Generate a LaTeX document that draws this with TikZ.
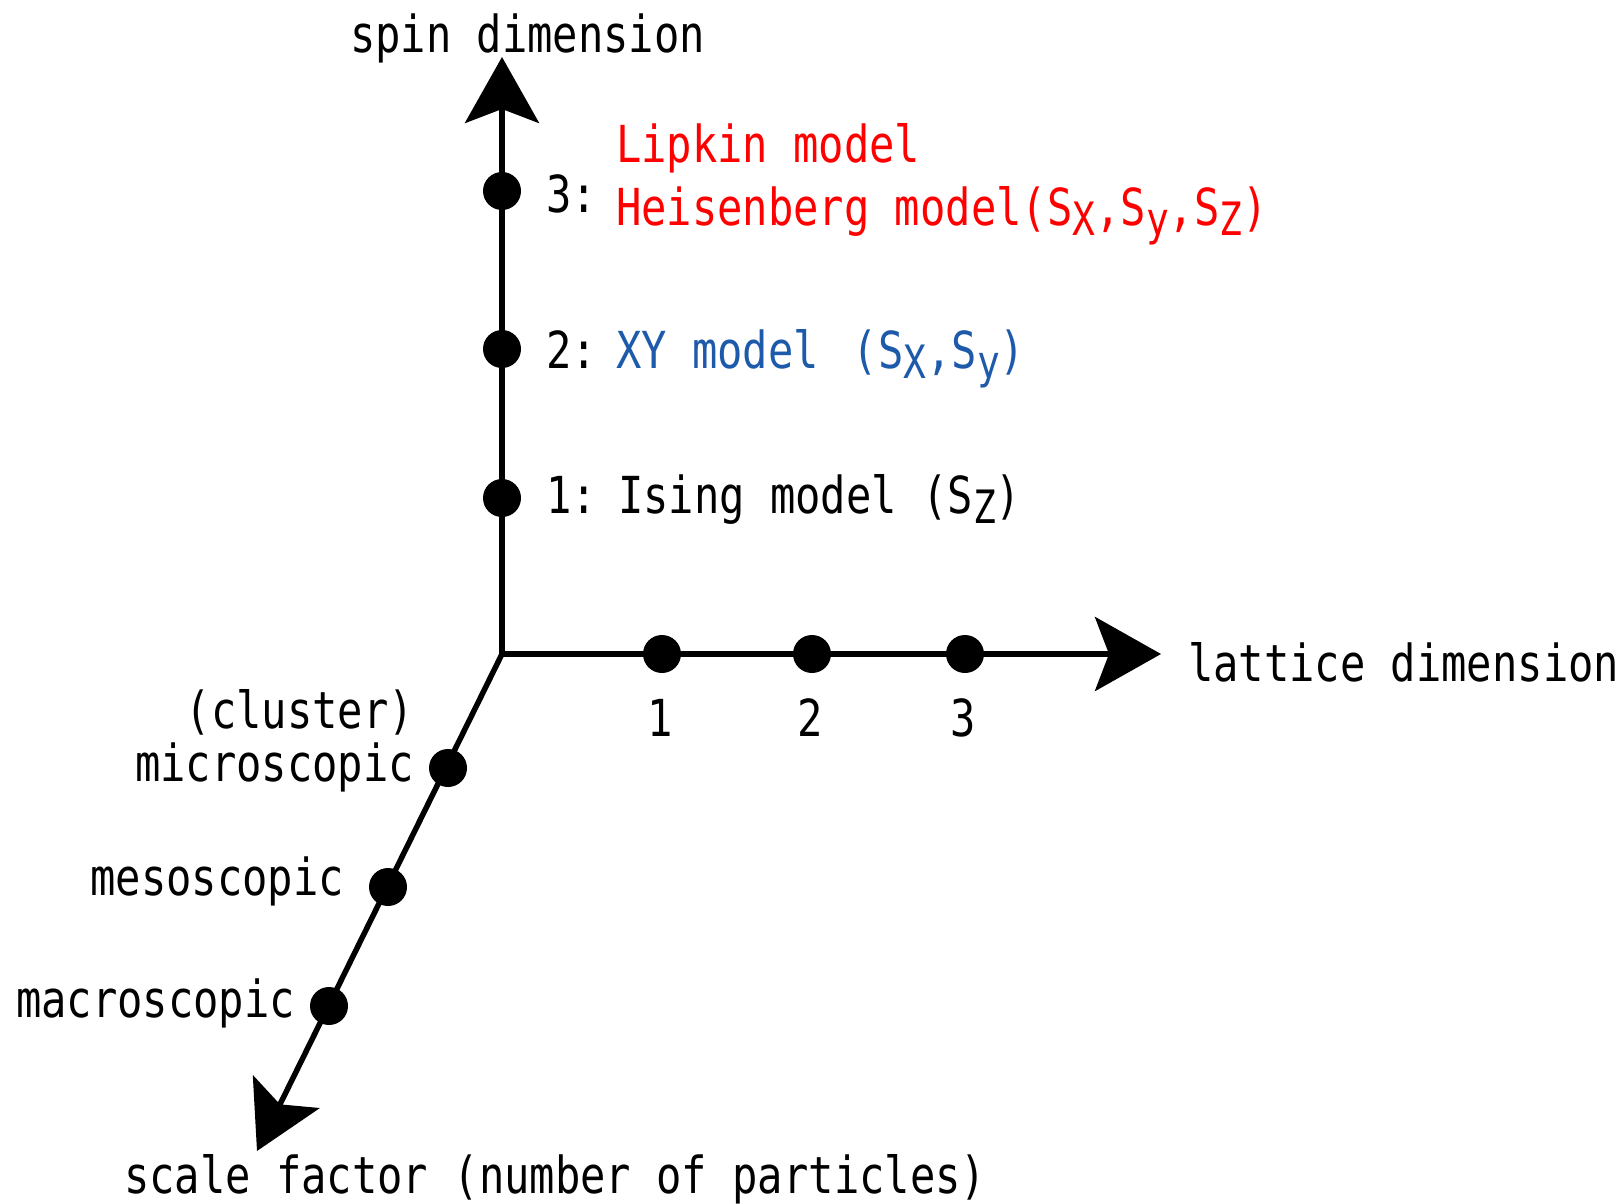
\documentclass[tikz,border=0pt]{standalone}
\usepackage{fontspec}
\setmainfont{DejaVu Sans Mono}[FakeStretch=0.826]
\usetikzlibrary{arrows.meta}
\definecolor{mred}{RGB}{255,0,0}
\definecolor{mblue}{RGB}{30,90,170}
\newcommand{\mysub}[1]{\raisebox{-10pt}{\fontsize{46}{46}\selectfont #1}}
\begin{document}
\begin{tikzpicture}[x=1pt,y=-1pt,
  axis/.style={line width=5.5pt,-{Stealth[length=66pt,width=74pt,inset=14pt]}},
  dot/.style={circle,fill=black,minimum size=38pt,inner sep=0pt},
  lbl/.style={inner sep=0pt,outer sep=0pt,font=\fontsize{51}{51}\selectfont}]
\useasboundingbox (0,0) rectangle (1623,1203);
\coordinate (O) at (502,654);
\coordinate (ytip) at (502,57);
\coordinate (xtip) at (1161,654);
\coordinate (ztip) at (257,1151);
\draw[axis] (O) -- (ytip);
\draw[axis] (O) -- (xtip);
\draw[axis] (O) -- (ztip);
% spin dimension dots
\node[dot] (s3) at (502,191) {};
\node[dot] (s2) at (502,349) {};
\node[dot] (s1) at (502,498) {};
% lattice dots
\node[dot] (l1) at (662,654) {};
\node[dot] (l2) at (812,654) {};
\node[dot] (l3) at (965,654) {};
% scale dots
\node[dot] (c1) at (448,768) {};
\node[dot] (c2) at (388,887) {};
\node[dot] (c3) at (329,1006) {};
% labels
\node[lbl,anchor=base west] (spinlbl) at (350,52) {spin dimension};
\node[lbl,anchor=base west] (latlbl) at (1188,681) {lattice dimension};
\node[lbl,anchor=base] (n1) at (660,736) {1};
\node[lbl,anchor=base] (n2) at (810,736) {2};
\node[lbl,anchor=base] (n3) at (963,736) {3};
\node[lbl,anchor=base west] (t3) at (546,212) {3:};
\node[lbl,anchor=base west,text=mred] (lip) at (616,162) {Lipkin model};
\node[lbl,anchor=base west,text=mred] (heis) at (616,225) {Heisenberg model(S\mysub{X},S\mysub{y},S\mysub{Z})};
\node[lbl,anchor=base west] (t2) at (546,368) {2:};
\node[lbl,anchor=base west,text=mblue] (xy) at (616,368) {XY model \,(S\mysub{X},S\mysub{y})};
\node[lbl,anchor=base west] (t1) at (546,513) {1:};
\node[lbl,anchor=base west] (ising) at (618,513) {Ising model (S\mysub{Z})};
\node[lbl,anchor=base east] (clus) at (414,728) {(cluster)};
\node[lbl,anchor=base east] (micro) at (414,781) {microscopic};
\node[lbl,anchor=base east] (meso) at (344,895) {mesoscopic};
\node[lbl,anchor=base east] (macro) at (295,1017) {macroscopic};
\node[lbl,anchor=base west] (scale) at (124,1193) {scale factor (number of particles)};
\end{tikzpicture}
\end{document}
